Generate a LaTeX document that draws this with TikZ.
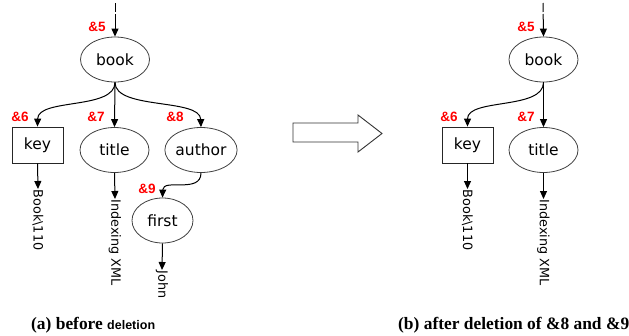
\documentclass[tikz,border=0pt]{standalone}
\usepackage{fontspec}
\setmainfont{Liberation Serif}
\newfontfamily\nodefont{DejaVu Sans}
\newfontfamily\labfont{Liberation Sans}
\usetikzlibrary{shapes.geometric,arrows.meta}
\begin{document}
\begin{tikzpicture}[x=1pt,y=-1pt,
  elem/.style={ellipse,draw=black!75,line width=0.8pt,minimum width=69pt,minimum height=45pt,inner sep=0pt,font=\nodefont\fontsize{15.5}{18}\selectfont},
  keybox/.style={rectangle,draw=black!85,line width=0.8pt,minimum width=51pt,minimum height=36pt,inner sep=0pt,font=\nodefont\fontsize{15.5}{18}\selectfont},
  leaf/.style={rotate=-90,anchor=west,inner sep=0.5pt,font=\nodefont\fontsize{12.8}{15}\selectfont},
  ref/.style={text=red,font=\labfont\bfseries\fontsize{13.5}{16}\selectfont,inner sep=0pt},
  edge/.style={line width=1pt,-{Triangle[length=8pt,width=7pt]}},
  feed/.style={edge,dash pattern=on 9pt off 2pt on 20pt off 0pt},
  caption/.style={anchor=base west,inner sep=0pt,font=\bfseries\fontsize{17.4}{20}\selectfont}]
\useasboundingbox (0,0) rectangle (629,335);

% ---- tree (a): before deletion ----
\coordinate (inA) at (115,3);
\node[elem] (book) at (115,59.5) {book};
\node[keybox] (key) at (37.5,145) {key};
\node[elem] (title) at (114.5,150) {title};
\node[elem] (author) at (201,150) {author};
\node[elem,minimum width=61pt] (first) at (162.5,220.5) {first};
\node[leaf] (kval) at (38,189) {Book\textbackslash110};
\node[leaf] (tval) at (115,199) {Indexing XML};
\node[leaf] (fval) at (162,270) {John};

\draw[feed] (inA) -- (book.north);
\draw[edge] (book.south) .. controls (115,110) and (38,98) .. (key.north);
\draw[edge] (book.south) -- (title.north);
\draw[edge] (book.south) .. controls (115,110) and (200,98) .. (author.north);
\draw[edge] (author.south) .. controls (201,194) and (163,178) .. (first.north);
\draw[edge] (key.south) -- (kval.west);
\draw[edge] (title.south) -- (tval.west);
\draw[edge] (first.south) -- (fval.west);

\node[ref] (r5) at (97,27) {\&5};
\node[ref] (r6) at (20,117) {\&6};
\node[ref] (r7) at (96,117) {\&7};
\node[ref] (r8) at (175,117) {\&8};
\node[ref] (r9) at (147,189) {\&9};

% ---- block arrow between the two trees ----
\draw[line width=0.9pt,draw=black!80] (293,123) -- (358,123) -- (358,115) -- (382,133.5)
  -- (358,152) -- (358,142) -- (293,142) -- cycle;

% ---- tree (b): after deletion ----
\coordinate (inB) at (543,3);
\node[elem] (bookB) at (543.5,59.5) {book};
\node[keybox] (keyB) at (467.5,145) {key};
\node[elem] (titleB) at (543.5,150) {title};
\node[leaf] (kvalB) at (467.5,189) {Book\textbackslash110};
\node[leaf] (tvalB) at (543.5,199) {Indexing XML};

\draw[feed] (inB) -- (bookB.north);
\draw[edge] (bookB.south) .. controls (543.5,110) and (467.5,98) .. (keyB.north);
\draw[edge] (bookB.south) -- (titleB.north);
\draw[edge] (keyB.south) -- (kvalB.west);
\draw[edge] (titleB.south) -- (tvalB.west);

\node[ref] (s5) at (526,27) {\&5};
\node[ref] (s6) at (449,117) {\&6};
\node[ref] (s7) at (526,117) {\&7};

% ---- captions ----
\node[caption] (capA) at (31,329) {(a) before {\labfont\fontsize{12.5}{15}\selectfont deletion}};
\node[caption] (capB) at (398,329) {(b) after deletion of \&8 and \&9};
\end{tikzpicture}
\end{document}
